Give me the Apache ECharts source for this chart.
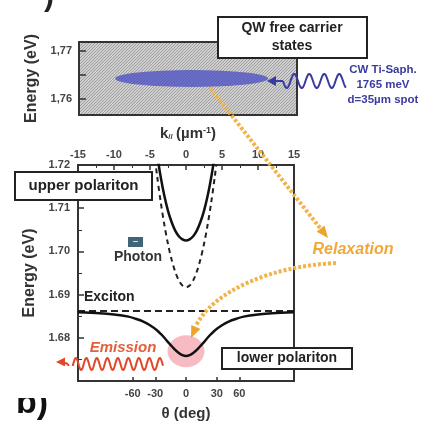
<!DOCTYPE html>
<html><head><meta charset="utf-8">
<script src="https://cdn.jsdelivr.net/npm/echarts@6/dist/echarts.min.js"></script>
<style>html,body{margin:0;padding:0;background:#fff}#c{width:427px;height:427px}</style>
</head><body><div id="c"></div>
<script>
// ---------- data ----------
const thetaTicks = [-60, -30, 0, 30, 60];          // bottom axis tick labels (deg)
const K0 = 8.54;                                    // k (µm^-1) per unit sin(theta)
const topEnergyTicks = [1.76, 1.765, 1.77];
const topEnergyLabels = [1.76, 1.77];
const pumpSpot = [[0.5, 1.7643]];                   // excitation spot in QW continuum
const upperK = [-4.5,-4,-3.5,-3,-2.5,-2,-1.5,-1,-0.5,0,0.5,1,1.5,2,2.5,3,3.5,4,4.5];
const upperE = [1.7284,1.7223,1.7171,1.7128,1.7094,1.7068,1.7048,1.7035,1.7028,1.7025,1.7028,1.7035,1.7048,1.7068,1.7094,1.7128,1.7171,1.7223,1.7284];
const photonK = [-5,-4.5,-4,-3.5,-3,-2.5,-2,-1.5,-1,-0.5,0,0.5,1,1.5,2,2.5,3,3.5,4,4.5,5];
const photonE = [1.7317,1.7241,1.7173,1.7113,1.7061,1.7017,1.6981,1.6953,1.6933,1.6921,1.6917,1.6921,1.6933,1.6953,1.6981,1.7017,1.7061,1.7113,1.7173,1.7241,1.7317];
const excitonK = [-15, 15];
const excitonE = [1.6862, 1.6862];
const lowerK = [-15,-12,-10,-8,-7,-6,-5,-4,-3.5,-3,-2.5,-2,-1.5,-1,-0.5,0,0.5,1,1.5,2,2.5,3,3.5,4,5,6,7,8,10,12,15];
const lowerE = [1.6859,1.6857,1.6854,1.6849,1.6844,1.6838,1.6829,1.6817,1.6809,1.6800,1.6790,1.6781,1.6772,1.6765,1.6760,1.6758,1.6760,1.6765,1.6772,1.6781,1.6790,1.6800,1.6809,1.6817,1.6829,1.6838,1.6844,1.6849,1.6854,1.6857,1.6859];
const emissionSpot = [[0, 1.6769]];

// ---------- helpers ----------
const FONT = '"Liberation Sans", Arial, sans-serif';
const pairs = (xs, ys) => xs.map((x, i) => [x, ys[i]]);
const thetaToK = t => K0 * Math.sin(t * Math.PI / 180);
function wave(x0, x1, yc, A, period) {
  const pts = [];
  for (let x = x0; x <= x1 + 0.01; x += 0.5) pts.push([x, yc + A * Math.sin(2 * Math.PI * (x - x0) / period)]);
  return pts;
}
function head(tx, ty, dx, dy, len, half) {
  const l = Math.hypot(dx, dy); dx /= l; dy /= l;
  const bx = tx - dx * len, by = ty - dy * len;
  return [[tx, ty], [bx - dy * half, by + dx * half], [bx + dy * half, by - dx * half]];
}
const hatch = document.createElement('canvas');
hatch.width = 6; hatch.height = 6;
(function () {
  const g = hatch.getContext('2d');
  g.fillStyle = '#cfcfcf'; g.fillRect(0, 0, 6, 6);
  g.strokeStyle = '#9a9a9a'; g.lineWidth = 0.9;
  g.beginPath();
  for (let o = -6; o <= 12; o += 3) { g.moveTo(o - 6, 6); g.lineTo(o, 0); }
  g.stroke();
})();

const labelStyle = { fontFamily: FONT, fontSize: 11, fontWeight: 'bold', color: '#444' };
const nameStyle = { fontFamily: FONT, fontSize: 16, fontWeight: 'bold', color: '#333' };
const tickLine = { color: '#333', width: 1.5 };

const orange = '#f2b44a';
const blue = '#3a3aa0';
const red = '#e0482a';

const chart = echarts.init(document.getElementById('c'), null, { renderer: 'canvas' });
chart.setOption({
  animation: false,
  backgroundColor: '#fff',
  grid: [
    { left: 79, top: 42, width: 218, height: 73, show: true, backgroundColor: { image: hatch, repeat: 'repeat' }, borderColor: '#333', borderWidth: 2, outerBoundsMode: 'none', containLabel: false },
    { left: 78, top: 165, width: 216, height: 216, show: true, backgroundColor: '#fff', borderColor: '#333', borderWidth: 2, outerBoundsMode: 'none', containLabel: false }
  ],
  xAxis: [
    { gridIndex: 0, type: 'value', min: -15, max: 15, axisLine: { show: false, onZero: false }, axisTick: { show: false }, axisLabel: { show: false }, splitLine: { show: false },
      name: '{a|k}{s|//} {a|(µm}{p|-1}{a|)}', nameLocation: 'middle', nameGap: 11,
      nameTextStyle: { rich: {
        a: { fontFamily: FONT, fontSize: 15, fontWeight: 'bold', color: '#333' },
        s: { fontFamily: FONT, fontSize: 8, fontWeight: 'bold', color: '#333', verticalAlign: 'bottom' },
        p: { fontFamily: FONT, fontSize: 9, fontWeight: 'bold', color: '#333', verticalAlign: 'top' } } } },
    { gridIndex: 1, type: 'value', position: 'top', min: -15, max: 15, interval: 5,
      axisLine: { show: false, onZero: false }, axisTick: { show: true, inside: true, length: 5, lineStyle: tickLine },
      minorTick: { show: true, splitNumber: 2, length: 3, lineStyle: { color: '#333', width: 1 } },
      axisLabel: Object.assign({ margin: 5 }, labelStyle), splitLine: { show: false } },
    { gridIndex: 1, type: 'value', position: 'bottom', min: -15, max: 15,
      axisLine: { show: false, onZero: false },
      axisTick: { show: true, inside: true, length: 4, lineStyle: tickLine, customValues: thetaTicks.map(thetaToK) },
      axisLabel: Object.assign({ margin: 7, customValues: thetaTicks.map(thetaToK),
        formatter: v => String(Math.round(Math.asin(v / K0) * 180 / Math.PI) || 0) }, labelStyle),
      splitLine: { show: false },
      name: 'θ (deg)', nameLocation: 'middle', nameGap: 25, nameTextStyle: Object.assign({}, nameStyle, { fontSize: 15 }) }
  ],
  yAxis: [
    { gridIndex: 0, type: 'value', min: 1.7567, max: 1.7719,
      axisLine: { show: false, onZero: false },
      axisTick: { show: true, inside: true, length: 7, lineStyle: tickLine, customValues: topEnergyTicks },
      axisLabel: Object.assign({ margin: 7, customValues: topEnergyLabels, formatter: v => v.toFixed(2).replace('.', ',') }, labelStyle),
      splitLine: { show: false },
      name: 'Energy (eV)', nameLocation: 'middle', nameRotate: 90, nameGap: 37, nameTextStyle: nameStyle },
    { gridIndex: 1, type: 'value', min: 1.67, max: 1.72, interval: 0.01,
      axisLine: { show: false, onZero: false },
      axisTick: { show: true, inside: true, length: 6, lineStyle: tickLine },
      minorTick: { show: true, splitNumber: 2, length: 4, lineStyle: { color: '#333', width: 1 } },
      axisLabel: Object.assign({ margin: 8, showMinLabel: false, formatter: v => v.toFixed(2) }, labelStyle),
      splitLine: { show: false },
      name: 'Energy (eV)', nameLocation: 'middle', nameRotate: 90, nameGap: 37, nameTextStyle: nameStyle }
  ],
  series: [
    { type: 'scatter', xAxisIndex: 0, yAxisIndex: 0, data: pumpSpot, symbol: 'circle', symbolSize: [153, 17], itemStyle: { color: '#5054c2' }, silent: true, z: 3 },
    { type: 'scatter', xAxisIndex: 1, yAxisIndex: 1, data: emissionSpot, symbol: 'circle', symbolSize: [37, 32], itemStyle: { color: '#f5aab5' }, silent: true, z: 1 },
    { type: 'line', xAxisIndex: 1, yAxisIndex: 1, data: pairs(photonK, photonE), symbol: 'none', smooth: 0.3, lineStyle: { color: '#222', width: 2, type: [5, 4] }, z: 2 },
    { type: 'line', xAxisIndex: 1, yAxisIndex: 1, data: pairs(upperK, upperE), symbol: 'none', smooth: 0.3, lineStyle: { color: '#111', width: 2.5 }, z: 3 },
    { type: 'line', xAxisIndex: 1, yAxisIndex: 1, data: pairs(excitonK, excitonE), symbol: 'none', lineStyle: { color: '#222', width: 2, type: [7, 4] }, z: 2 },
    { type: 'line', xAxisIndex: 1, yAxisIndex: 1, data: pairs(lowerK, lowerE), symbol: 'none', smooth: 0.3, lineStyle: { color: '#111', width: 2.5 }, z: 3 }
  ],
  graphic: [
    // partial "a)" at very top
    { type: 'text', x: 44, y: 13, z: 30, style: { text: ')', font: 'bold 30px ' + FONT, fill: '#222', align: 'left', verticalAlign: 'bottom' } },
    // QW box
    { type: 'rect', z: 30, shape: { x: 218, y: 17, width: 149, height: 41 }, style: { fill: '#fff', stroke: '#222', lineWidth: 2 } },
    { type: 'text', z: 31, x: 292, y: 37, style: { text: 'QW free carrier\nstates', font: 'bold 14px ' + FONT, fill: '#222', align: 'center', verticalAlign: 'middle', lineHeight: 18 } },
    // pump wave
    { type: 'polyline', z: 30, shape: { points: wave(283, 346, 81, 7, 15) }, style: { stroke: blue, lineWidth: 2, fill: null } },
    { type: 'line', z: 30, shape: { x1: 272, y1: 81, x2: 283, y2: 81 }, style: { stroke: blue, lineWidth: 2 } },
    { type: 'polygon', z: 30, shape: { points: head(267, 81, -1, 0, 9, 5) }, style: { fill: blue } },
    { type: 'text', z: 30, x: 383, y: 85, style: { text: 'CW Ti-Saph.\n1765 meV\nd=35µm spot', font: 'bold 11.5px ' + FONT, fill: '#3c3ca0', align: 'center', verticalAlign: 'middle', lineHeight: 15 } },
    // relaxation arrows
    { type: 'line', z: 25, shape: { x1: 210, y1: 88, x2: 320, y2: 228 }, style: { stroke: orange, lineWidth: 4, lineDash: [3, 2] } },
    { type: 'polygon', z: 25, shape: { points: head(328, 238, 115, 146, 12, 5) }, style: { fill: '#eda42e' } },
    { type: 'text', z: 25, x: 353, y: 250, style: { text: 'Relaxation', font: 'italic bold 16px ' + FONT, fill: '#f0a838', align: 'center', verticalAlign: 'middle' } },
    { type: 'bezierCurve', z: 25, shape: { x1: 336, y1: 263, cpx1: 270, cpy1: 266, cpx2: 212, cpy2: 292, x2: 196, y2: 326 }, style: { stroke: orange, lineWidth: 4, lineDash: [3, 2], fill: null } },
    { type: 'polygon', z: 25, shape: { points: head(191, 338, -16, 36, 12, 5) }, style: { fill: '#eda42e' } },
    // emission
    { type: 'text', z: 25, x: 123, y: 348, style: { text: 'Emission', font: 'italic bold 15px ' + FONT, fill: '#e4603c', align: 'center', verticalAlign: 'middle' } },
    { type: 'polyline', z: 25, shape: { points: wave(68, 163, 364, 6, 10.5) }, style: { stroke: red, lineWidth: 2, fill: null } },
    { type: 'line', z: 25, shape: { x1: 62, y1: 362, x2: 68, y2: 364 }, style: { stroke: red, lineWidth: 2 } },
    { type: 'polygon', z: 25, shape: { points: head(56, 362, -1, 0, 9, 4.5) }, style: { fill: red } },
    // labels in the dispersion panel
    { type: 'rect', z: 30, shape: { x: 15, y: 172, width: 137, height: 28 }, style: { fill: '#fff', stroke: '#222', lineWidth: 2 } },
    { type: 'text', z: 31, x: 83.5, y: 186, style: { text: 'upper polariton', font: 'bold 15px ' + FONT, fill: '#222', align: 'center', verticalAlign: 'middle' } },
    { type: 'rect', z: 30, shape: { x: 222, y: 348, width: 130, height: 21 }, style: { fill: '#fff', stroke: '#222', lineWidth: 2 } },
    { type: 'text', z: 31, x: 287, y: 358.5, style: { text: 'lower polariton', font: 'bold 14px ' + FONT, fill: '#222', align: 'center', verticalAlign: 'middle' } },
    { type: 'rect', z: 30, shape: { x: 128, y: 237, width: 15, height: 10 }, style: { fill: '#3e6678' } },
    { type: 'line', z: 31, shape: { x1: 133, y1: 241.5, x2: 138, y2: 241.5 }, style: { stroke: '#cfe0e8', lineWidth: 1 } },
    { type: 'text', z: 30, x: 138, y: 257, style: { text: 'Photon', font: 'bold 14px ' + FONT, fill: '#333', align: 'center', verticalAlign: 'middle' } },
    { type: 'text', z: 30, x: 84, y: 297, style: { text: 'Exciton', font: 'bold 14px ' + FONT, fill: '#222', align: 'left', verticalAlign: 'middle' } },
    // white block lower-left and "b)" label
    { type: 'rect', z: 40, shape: { x: 0, y: 366, width: 77, height: 61 }, style: { fill: '#fff' } },
    { type: 'text', z: 41, x: 16, y: 421, style: { text: 'b)', font: 'bold 34px ' + FONT, fill: '#111', align: 'left', verticalAlign: 'bottom' } },
    { type: 'rect', z: 42, shape: { x: 0, y: 366, width: 77, height: 32 }, style: { fill: '#fff' } }
  ]
});
</script>
</body></html>
